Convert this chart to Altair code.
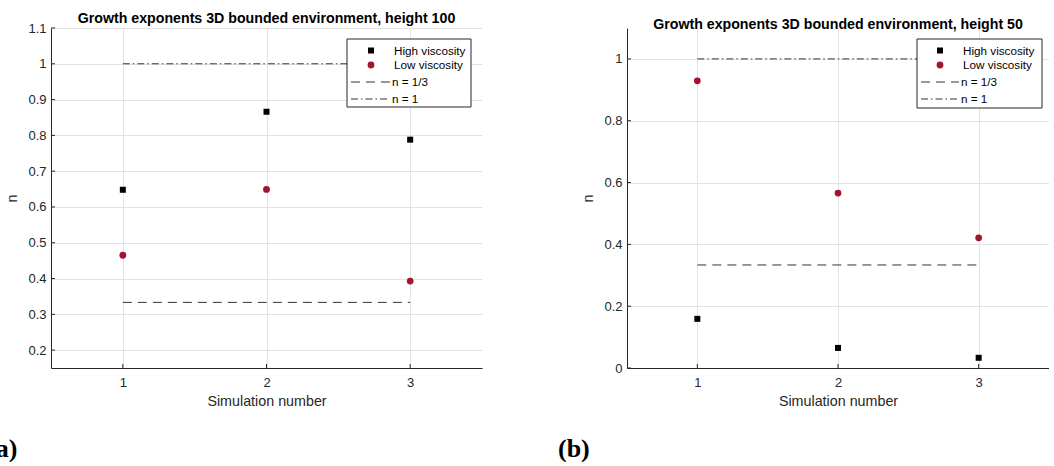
import altair as alt
import pandas as pd

# ---------------- data ----------------
sims = [1, 2, 3]
series = ["High viscosity", "Low viscosity"]
high_a = [0.648, 0.866, 0.788]
low_a = [0.465, 0.649, 0.393]
high_b = [0.159, 0.065, 0.033]
low_b = [0.929, 0.566, 0.421]
ref_n = [1 / 3, 1.0]
ref_labels = ["n = 1/3", "n = 1"]
ref_x = [1, 3]
xticks = [1, 2, 3]
yticks_a = [0.2, 0.3, 0.4, 0.5, 0.6, 0.7, 0.8, 0.9, 1.0, 1.1]
yticks_b = [0.0, 0.2, 0.4, 0.6, 0.8, 1.0]
titles = ["Growth exponents 3D bounded environment, height 100",
          "Growth exponents 3D bounded environment, height 50"]
panel_labels = ["(a)", "(b)"]

RED = "#A2142F"
DARK = "#262626"
FONT = "Liberation Sans"
H = 340


def panel(high, low, yticks, ydom, title, plabel, W, leg, lab_x):
    xs = alt.Scale(domain=[0.5, 3.5], nice=False, zero=False)
    ys = alt.Scale(domain=ydom, nice=False, zero=False)
    xax = alt.Axis(values=xticks, format="d", title="Simulation number", grid=True)
    yax = alt.Axis(values=yticks, format="~g", title="n", grid=True)

    pts_hi = pd.DataFrame({"sim": sims, "n": high})
    pts_lo = pd.DataFrame({"sim": sims, "n": low})
    refdf = pd.DataFrame({"x": [ref_x[0]] * 2, "x2": [ref_x[1]] * 2, "n": ref_n, "kind": ref_labels})

    base_x = alt.X("sim:Q", scale=xs, axis=xax)
    base_y = alt.Y("n:Q", scale=ys, axis=yax)

    layers = []
    dashes = [[9, 6], [7, 3, 1.5, 3]]
    for i in range(2):
        layers.append(
            alt.Chart(refdf.iloc[[i]]).mark_rule(color="#333333", strokeWidth=1, strokeDash=dashes[i]).encode(
                x=alt.X("x:Q", scale=xs, axis=xax), x2="x2:Q",
                y=alt.Y("n:Q", scale=ys, axis=yax))
        )
    layers.append(alt.Chart(pts_hi).mark_point(shape="square", filled=True, color="#000000",
                                               size=36, opacity=1).encode(x=base_x, y=base_y))
    layers.append(alt.Chart(pts_lo).mark_point(shape="circle", filled=True, color=RED,
                                               size=46, opacity=1).encode(x=base_x, y=base_y))
    # inward ticks
    layers.append(alt.Chart(pd.DataFrame({"t": xticks})).mark_rule(color=DARK, strokeWidth=1).encode(
        x=alt.X("t:Q", scale=xs, axis=xax), y=alt.value(H), y2=alt.value(H - 4)))
    layers.append(alt.Chart(pd.DataFrame({"t": yticks})).mark_rule(color=DARK, strokeWidth=1).encode(
        y=alt.Y("t:Q", scale=ys, axis=yax), x=alt.value(0), x2=alt.value(4)))

    # legend (drawn manually, MATLAB style box)
    bx0, bx1, by0, by1, sx, lx0, lx1, tx = leg
    one = alt.Data(values=[{}])
    layers.append(alt.Chart(one).mark_rect(fill="white", stroke=DARK, strokeWidth=1).encode(
        x=alt.value(bx0), x2=alt.value(bx1), y=alt.value(by0), y2=alt.value(by1)))
    rows = [by0 + 11.5, by0 + 26, by0 + 43, by0 + 60]
    layers.append(alt.Chart(one).mark_point(shape="square", filled=True, color="#000000", size=36,
                                            opacity=1).encode(x=alt.value(sx), y=alt.value(rows[0])))
    layers.append(alt.Chart(one).mark_point(shape="circle", filled=True, color=RED, size=46,
                                            opacity=1).encode(x=alt.value(sx), y=alt.value(rows[1])))
    for i in range(2):
        layers.append(alt.Chart(one).mark_rule(color="#333333", strokeWidth=1, strokeDash=dashes[i]).encode(
            x=alt.value(lx0), x2=alt.value(lx1), y=alt.value(rows[2 + i])))
    labels = series + ref_labels
    for i, lab in enumerate(labels):
        layers.append(alt.Chart(one).mark_text(text=lab, align="left", baseline="middle", font=FONT,
                                               fontSize=11.7, color="#000000").encode(
            x=alt.value(tx if i < 2 else tx - 2), y=alt.value(rows[i])))

    # subfigure label
    layers.append(alt.Chart(one).mark_text(text=plabel, align="left", baseline="alphabetic",
                                           font="Liberation Serif", fontWeight="bold", fontSize=26,
                                           color="#000000").encode(
        x=alt.value(lab_x), y=alt.value(H + 89)))

    return alt.layer(*layers).properties(
        width=W, height=H,
        title=alt.TitleParams(text=title, fontSize=14.2, fontWeight="bold", font=FONT,
                              color="#000000", offset=-4, anchor="middle"))


left = panel(high_a, low_a, yticks_a, [0.15, 1.1], titles[0], panel_labels[0], 431,
             (296, 420, 11, 79, 320, 300, 339, 343), -64)
right = panel(high_b, low_b, yticks_b, [0.0, 1.1], titles[1], panel_labels[1], 422,
              (290, 415, 11, 80, 313, 294, 332, 336), -69)

chart = alt.hconcat(left, right, spacing=76).properties(
    padding={"left": -13, "top": 11, "right": 0, "bottom": 0}
).configure_view(stroke=None).configure_axis(
    labelFont=FONT, labelFontSize=13, labelColor=DARK,
    titleFont=FONT, titleFontSize=14.3, titleFontWeight="normal", titleColor=DARK,
    gridColor="#e3e3e3", gridWidth=1, domainColor=DARK, domainWidth=1,
    ticks=False, labelPadding=5, titlePadding=8
).configure_axisX(labelPadding=8, titlePadding=5)

chart.save("out.html", embed_options={"renderer": "svg", "actions": False})
